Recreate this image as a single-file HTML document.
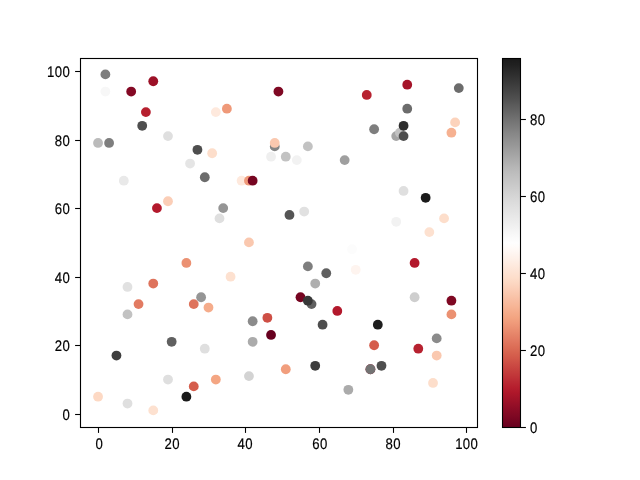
<!DOCTYPE html>
<html><head><meta charset="utf-8"><title>scatter</title>
<style>
html,body{margin:0;padding:0;background:#fff;}
body{width:640px;height:480px;overflow:hidden;}
svg{display:block;}
text{font-family:"Liberation Sans",sans-serif;font-size:15.3px;fill:#000;letter-spacing:0.45px;text-rendering:geometricPrecision;stroke:#000;stroke-width:0.2px;}
</style></head><body>
<svg width="640" height="480" viewBox="0 0 640 480">
<rect x="0" y="0" width="640" height="480" fill="#ffffff"/>
<defs><linearGradient id="cb" x1="0" y1="1" x2="0" y2="0"><stop offset="0.0000" stop-color="#67001f"/><stop offset="0.0156" stop-color="#730421"/><stop offset="0.0312" stop-color="#7f0823"/><stop offset="0.0469" stop-color="#8a0b25"/><stop offset="0.0625" stop-color="#960f27"/><stop offset="0.0781" stop-color="#a21328"/><stop offset="0.0938" stop-color="#ae172a"/><stop offset="0.1094" stop-color="#b61f2e"/><stop offset="0.1250" stop-color="#bb2a34"/><stop offset="0.1406" stop-color="#c13639"/><stop offset="0.1562" stop-color="#c6413e"/><stop offset="0.1719" stop-color="#cc4c44"/><stop offset="0.1875" stop-color="#d25849"/><stop offset="0.2031" stop-color="#d7634f"/><stop offset="0.2188" stop-color="#dc6e57"/><stop offset="0.2344" stop-color="#e17860"/><stop offset="0.2500" stop-color="#e58368"/><stop offset="0.2656" stop-color="#ea8e70"/><stop offset="0.2812" stop-color="#ef9979"/><stop offset="0.2969" stop-color="#f3a481"/><stop offset="0.3125" stop-color="#f5ac8b"/><stop offset="0.3281" stop-color="#f7b596"/><stop offset="0.3438" stop-color="#f8bda1"/><stop offset="0.3594" stop-color="#f9c6ac"/><stop offset="0.3750" stop-color="#fbceb7"/><stop offset="0.3906" stop-color="#fcd7c2"/><stop offset="0.4062" stop-color="#fddecb"/><stop offset="0.4219" stop-color="#fde3d4"/><stop offset="0.4375" stop-color="#fee9dd"/><stop offset="0.4531" stop-color="#feefe6"/><stop offset="0.4688" stop-color="#fef4ef"/><stop offset="0.4844" stop-color="#fffaf7"/><stop offset="0.5000" stop-color="#fefefe"/><stop offset="0.5156" stop-color="#fafafa"/><stop offset="0.5312" stop-color="#f5f5f5"/><stop offset="0.5469" stop-color="#f0f0f0"/><stop offset="0.5625" stop-color="#ebebeb"/><stop offset="0.5781" stop-color="#e6e6e6"/><stop offset="0.5938" stop-color="#e1e1e1"/><stop offset="0.6094" stop-color="#dcdcdc"/><stop offset="0.6250" stop-color="#d6d6d6"/><stop offset="0.6406" stop-color="#d0d0d0"/><stop offset="0.6562" stop-color="#cacaca"/><stop offset="0.6719" stop-color="#c4c4c4"/><stop offset="0.6875" stop-color="#bebebe"/><stop offset="0.7031" stop-color="#b7b7b7"/><stop offset="0.7188" stop-color="#afafaf"/><stop offset="0.7344" stop-color="#a7a7a7"/><stop offset="0.7500" stop-color="#9f9f9f"/><stop offset="0.7656" stop-color="#979797"/><stop offset="0.7812" stop-color="#8f8f8f"/><stop offset="0.7969" stop-color="#878787"/><stop offset="0.8125" stop-color="#7e7e7e"/><stop offset="0.8281" stop-color="#757575"/><stop offset="0.8438" stop-color="#6c6c6c"/><stop offset="0.8594" stop-color="#636363"/><stop offset="0.8750" stop-color="#5a5a5a"/><stop offset="0.8906" stop-color="#505050"/><stop offset="0.9062" stop-color="#484848"/><stop offset="0.9219" stop-color="#404040"/><stop offset="0.9375" stop-color="#383838"/><stop offset="0.9531" stop-color="#303030"/><stop offset="0.9688" stop-color="#282828"/><stop offset="0.9844" stop-color="#202020"/><stop offset="1.0000" stop-color="#1a1a1a"/></linearGradient></defs>
<g><circle cx="105.40" cy="74.40" r="4.90" fill="#7e7e7e"/><circle cx="105.40" cy="91.54" r="4.90" fill="#f7f7f7"/><circle cx="153.25" cy="81.26" r="4.90" fill="#9c1127"/><circle cx="131.17" cy="91.54" r="4.90" fill="#840924"/><circle cx="145.89" cy="112.11" r="4.90" fill="#b61f2e"/><circle cx="142.21" cy="125.83" r="4.90" fill="#4e4e4e"/><circle cx="98.04" cy="142.97" r="4.90" fill="#bbbbbb"/><circle cx="109.08" cy="142.97" r="4.90" fill="#7e7e7e"/><circle cx="167.98" cy="136.11" r="4.90" fill="#dfdfdf"/><circle cx="215.83" cy="112.11" r="4.90" fill="#fee9dd"/><circle cx="226.88" cy="108.68" r="4.90" fill="#ef9979"/><circle cx="197.43" cy="149.83" r="4.90" fill="#4e4e4e"/><circle cx="212.15" cy="153.26" r="4.90" fill="#fddecb"/><circle cx="190.06" cy="163.54" r="4.90" fill="#e5e5e5"/><circle cx="278.41" cy="91.54" r="4.90" fill="#7f0823"/><circle cx="366.75" cy="94.97" r="4.90" fill="#b72230"/><circle cx="374.12" cy="129.26" r="4.90" fill="#7e7e7e"/><circle cx="274.73" cy="146.40" r="4.90" fill="#858585"/><circle cx="274.73" cy="142.97" r="4.90" fill="#fac8af"/><circle cx="307.86" cy="146.40" r="4.90" fill="#c2c2c2"/><circle cx="271.05" cy="156.69" r="4.90" fill="#efefef"/><circle cx="285.77" cy="156.69" r="4.90" fill="#c2c2c2"/><circle cx="296.81" cy="160.11" r="4.90" fill="#f2f2f2"/><circle cx="344.67" cy="160.11" r="4.90" fill="#9f9f9f"/><circle cx="396.20" cy="136.11" r="4.90" fill="#a5a5a5"/><circle cx="399.88" cy="132.68" r="4.90" fill="#c2c2c2"/><circle cx="403.56" cy="136.11" r="4.90" fill="#4e4e4e"/><circle cx="403.56" cy="125.83" r="4.90" fill="#2e2e2e"/><circle cx="407.24" cy="84.68" r="4.90" fill="#a51429"/><circle cx="458.78" cy="88.11" r="4.90" fill="#6c6c6c"/><circle cx="407.24" cy="108.68" r="4.90" fill="#6c6c6c"/><circle cx="455.10" cy="122.40" r="4.90" fill="#fcd3bc"/><circle cx="451.42" cy="132.68" r="4.90" fill="#f6b191"/><circle cx="123.81" cy="180.69" r="4.90" fill="#e9e9e9"/><circle cx="204.79" cy="177.26" r="4.90" fill="#6c6c6c"/><circle cx="167.98" cy="201.26" r="4.90" fill="#fbceb7"/><circle cx="156.94" cy="208.11" r="4.90" fill="#b3192c"/><circle cx="223.19" cy="208.11" r="4.90" fill="#959595"/><circle cx="219.51" cy="218.40" r="4.90" fill="#dfdfdf"/><circle cx="186.38" cy="262.97" r="4.90" fill="#eb9172"/><circle cx="230.56" cy="276.69" r="4.90" fill="#fde1d0"/><circle cx="153.25" cy="283.54" r="4.90" fill="#de735c"/><circle cx="127.49" cy="286.97" r="4.90" fill="#e1e1e1"/><circle cx="241.60" cy="180.69" r="4.90" fill="#fee9dd"/><circle cx="248.96" cy="180.69" r="4.90" fill="#ef9979"/><circle cx="252.64" cy="180.69" r="4.90" fill="#760521"/><circle cx="289.45" cy="214.97" r="4.90" fill="#555555"/><circle cx="304.18" cy="211.54" r="4.90" fill="#e1e1e1"/><circle cx="248.96" cy="242.40" r="4.90" fill="#fac8af"/><circle cx="352.03" cy="249.26" r="4.90" fill="#fcfcfc"/><circle cx="355.71" cy="269.83" r="4.90" fill="#fef4ef"/><circle cx="307.86" cy="266.40" r="4.90" fill="#7e7e7e"/><circle cx="326.26" cy="273.26" r="4.90" fill="#606060"/><circle cx="315.22" cy="283.54" r="4.90" fill="#afafaf"/><circle cx="403.56" cy="190.97" r="4.90" fill="#dfdfdf"/><circle cx="425.65" cy="197.83" r="4.90" fill="#1a1a1a"/><circle cx="396.20" cy="221.83" r="4.90" fill="#f2f2f2"/><circle cx="444.05" cy="218.40" r="4.90" fill="#fddecb"/><circle cx="429.33" cy="232.11" r="4.90" fill="#fde1d0"/><circle cx="414.61" cy="262.97" r="4.90" fill="#b3192c"/><circle cx="138.53" cy="304.11" r="4.90" fill="#e27b62"/><circle cx="127.49" cy="314.40" r="4.90" fill="#c2c2c2"/><circle cx="201.11" cy="297.26" r="4.90" fill="#959595"/><circle cx="193.75" cy="304.11" r="4.90" fill="#de735c"/><circle cx="208.47" cy="307.54" r="4.90" fill="#f5ac8b"/><circle cx="171.66" cy="341.83" r="4.90" fill="#606060"/><circle cx="204.79" cy="348.69" r="4.90" fill="#dfdfdf"/><circle cx="116.45" cy="355.54" r="4.90" fill="#3e3e3e"/><circle cx="167.98" cy="379.54" r="4.90" fill="#dfdfdf"/><circle cx="215.83" cy="379.54" r="4.90" fill="#f4a683"/><circle cx="193.75" cy="386.40" r="4.90" fill="#d55d4c"/><circle cx="186.38" cy="396.69" r="4.90" fill="#1a1a1a"/><circle cx="98.04" cy="396.69" r="4.90" fill="#fdd9c4"/><circle cx="127.49" cy="403.54" r="4.90" fill="#dfdfdf"/><circle cx="300.50" cy="297.26" r="4.90" fill="#760521"/><circle cx="311.54" cy="304.11" r="4.90" fill="#606060"/><circle cx="307.86" cy="300.69" r="4.90" fill="#383838"/><circle cx="337.31" cy="310.97" r="4.90" fill="#b3192c"/><circle cx="252.64" cy="321.26" r="4.90" fill="#8b8b8b"/><circle cx="267.37" cy="317.83" r="4.90" fill="#ce4f45"/><circle cx="322.58" cy="324.69" r="4.90" fill="#4e4e4e"/><circle cx="377.80" cy="324.69" r="4.90" fill="#1e1e1e"/><circle cx="271.05" cy="334.97" r="4.90" fill="#67001f"/><circle cx="252.64" cy="341.83" r="4.90" fill="#ababab"/><circle cx="374.12" cy="345.26" r="4.90" fill="#d55d4c"/><circle cx="285.77" cy="369.26" r="4.90" fill="#f19e7d"/><circle cx="315.22" cy="365.83" r="4.90" fill="#3e3e3e"/><circle cx="381.48" cy="365.83" r="4.90" fill="#4e4e4e"/><circle cx="370.43" cy="369.26" r="4.90" fill="#8d0c25"/><circle cx="370.43" cy="369.26" r="4.90" fill="#737373"/><circle cx="248.96" cy="376.12" r="4.90" fill="#d3d3d3"/><circle cx="348.35" cy="389.83" r="4.90" fill="#ababab"/><circle cx="414.61" cy="297.26" r="4.90" fill="#cecece"/><circle cx="451.42" cy="300.69" r="4.90" fill="#7f0823"/><circle cx="451.42" cy="314.40" r="4.90" fill="#eb9172"/><circle cx="436.69" cy="338.40" r="4.90" fill="#8b8b8b"/><circle cx="418.29" cy="348.69" r="4.90" fill="#b72230"/><circle cx="436.69" cy="355.54" r="4.90" fill="#fac8af"/><circle cx="433.01" cy="382.97" r="4.90" fill="#fddecb"/><circle cx="153.25" cy="410.40" r="4.90" fill="#fde1d0"/></g>
<rect x="80.50" y="58.50" width="397.00" height="369.00" fill="none" stroke="#000" stroke-width="1.11"/>
<g opacity="0.999"><line x1="98.50" y1="427.50" x2="98.50" y2="432.90" stroke="#000" stroke-width="1.10"/><text transform="translate(99.40,448.90) scale(0.860,1)" text-anchor="middle">0</text><line x1="75.10" y1="414.50" x2="80.50" y2="414.50" stroke="#000" stroke-width="1.10"/><text transform="translate(70.20,419.90) scale(0.860,1)" text-anchor="end">0</text><line x1="172.50" y1="427.50" x2="172.50" y2="432.90" stroke="#000" stroke-width="1.10"/><text transform="translate(172.30,448.90) scale(0.860,1)" text-anchor="middle">20</text><line x1="75.10" y1="345.50" x2="80.50" y2="345.50" stroke="#000" stroke-width="1.10"/><text transform="translate(70.20,350.90) scale(0.860,1)" text-anchor="end">20</text><line x1="245.50" y1="427.50" x2="245.50" y2="432.90" stroke="#000" stroke-width="1.10"/><text transform="translate(245.30,448.90) scale(0.860,1)" text-anchor="middle">40</text><line x1="75.10" y1="277.50" x2="80.50" y2="277.50" stroke="#000" stroke-width="1.10"/><text transform="translate(70.20,282.90) scale(0.860,1)" text-anchor="end">40</text><line x1="319.50" y1="427.50" x2="319.50" y2="432.90" stroke="#000" stroke-width="1.10"/><text transform="translate(320.00,448.90) scale(0.860,1)" text-anchor="middle">60</text><line x1="75.10" y1="208.50" x2="80.50" y2="208.50" stroke="#000" stroke-width="1.10"/><text transform="translate(70.20,213.90) scale(0.860,1)" text-anchor="end">60</text><line x1="393.50" y1="427.50" x2="393.50" y2="432.90" stroke="#000" stroke-width="1.10"/><text transform="translate(393.30,448.90) scale(0.860,1)" text-anchor="middle">80</text><line x1="75.10" y1="140.50" x2="80.50" y2="140.50" stroke="#000" stroke-width="1.10"/><text transform="translate(70.20,145.90) scale(0.860,1)" text-anchor="end">80</text><line x1="466.50" y1="427.50" x2="466.50" y2="432.90" stroke="#000" stroke-width="1.10"/><text transform="translate(466.70,448.90) scale(0.860,1)" text-anchor="middle">100</text><line x1="75.10" y1="71.50" x2="80.50" y2="71.50" stroke="#000" stroke-width="1.10"/><text transform="translate(70.20,76.90) scale(0.860,1)" text-anchor="end">100</text>
<rect x="502.50" y="58.50" width="18.00" height="369.00" fill="url(#cb)" stroke="none"/>
<rect x="502.50" y="58.50" width="18.00" height="369.00" fill="none" stroke="#000" stroke-width="1.1"/>
<line x1="520.50" y1="427.50" x2="525.90" y2="427.50" stroke="#000" stroke-width="1.10"/><text transform="translate(530.00,432.90) scale(0.860,1)" text-anchor="start">0</text><line x1="520.50" y1="350.50" x2="525.90" y2="350.50" stroke="#000" stroke-width="1.10"/><text transform="translate(530.00,355.90) scale(0.860,1)" text-anchor="start">20</text><line x1="520.50" y1="273.50" x2="525.90" y2="273.50" stroke="#000" stroke-width="1.10"/><text transform="translate(530.00,278.90) scale(0.860,1)" text-anchor="start">40</text><line x1="520.50" y1="196.50" x2="525.90" y2="196.50" stroke="#000" stroke-width="1.10"/><text transform="translate(530.00,201.90) scale(0.860,1)" text-anchor="start">60</text><line x1="520.50" y1="119.50" x2="525.90" y2="119.50" stroke="#000" stroke-width="1.10"/><text transform="translate(530.00,124.90) scale(0.860,1)" text-anchor="start">80</text></g>
</svg></body></html>
